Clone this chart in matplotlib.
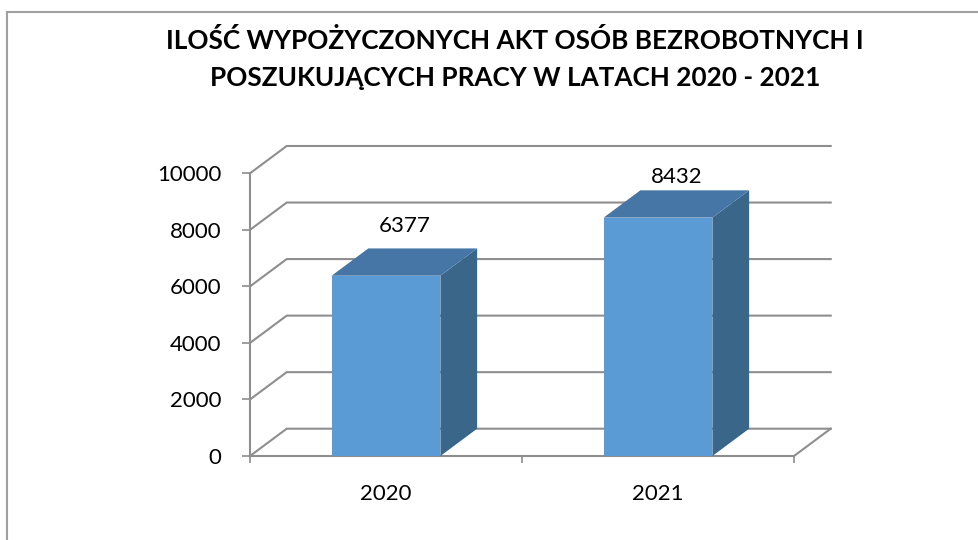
import matplotlib
matplotlib.use("Agg")
import matplotlib.pyplot as plt
from matplotlib.patches import Polygon, Rectangle
from matplotlib.lines import Line2D
import matplotlib.transforms as mtransforms

# ---- data ----
categories = ["2020", "2021"]
values = [6377, 8432]
yticks = [0, 2000, 4000, 6000, 8000, 10000]
title = "ILOŚĆ WYPOŻYCZONYCH AKT OSÓB BEZROBOTNYCH I\nPOSZUKUJĄCYCH PRACY W LATACH 2020 - 2021"

# ---- style / layout ----
W, H = 979, 540
front_c = "#5B9BD5"
top_c = "#4676A5"
side_c = "#3A6689"
grid_c = "#8E8E8E"
font = "Lato"
bar_w = 0.4
ddx = 0.135      # depth offset in category units
ddy = 966        # depth offset in value units
label_offsets_px = [22, 13]

fig = plt.figure(figsize=(W / 100, H / 100), dpi=100)
ax = fig.add_axes([250 / W, (H - 456) / H, 544 / W, (456 - 173.3) / H])
ax.set_xlim(-0.5, 1.5)
ax.set_ylim(0, 10000)
ax.patch.set_visible(False)

# spines
for s in ["top", "right"]:
    ax.spines[s].set_visible(False)
for s in ["left", "bottom"]:
    ax.spines[s].set_color(grid_c)
    ax.spines[s].set_linewidth(1.5)

# y ticks
ax.set_yticks(yticks)
ax.set_yticklabels([str(t) for t in yticks], fontfamily=font, fontsize=16)
ax.tick_params(axis="y", length=6, width=1.2, color=grid_c, pad=14.5)

# x ticks: major at category boundaries (tick marks), labels on minor at centers
n = len(categories)
ax.set_xticks([i - 0.5 for i in range(n + 1)])
ax.set_xticklabels([""] * (n + 1))
ax.set_xticks(list(range(n)), minor=True)
ax.set_xticklabels(categories, minor=True, fontfamily=font, fontsize=16)
ax.tick_params(axis="x", which="major", length=5, width=1.2, color=grid_c, direction="out")
ax.tick_params(axis="x", which="minor", length=0, pad=20)

# back wall gridlines with left wall diagonals
x0, x1 = -0.5, n - 0.5
for t in yticks:
    ax.plot([x0, x0 + ddx, x1 + ddx], [t, t + ddy, t + ddy], color=grid_c,
            lw=1.5, clip_on=False, zorder=1, solid_joinstyle="miter")
# floor right edge
ax.plot([x1, x1 + ddx], [0, ddy], color=grid_c, lw=1.5, clip_on=False, zorder=1)

# bars
for i, v in enumerate(values):
    l, r = i - bar_w / 2, i + bar_w / 2
    side = Polygon([(r, 0), (r + ddx, ddy), (r + ddx, v + ddy), (r, v)],
                   closed=True, facecolor=side_c, edgecolor="none", zorder=3, clip_on=False)
    top = Polygon([(l, v), (r, v), (r + ddx, v + ddy), (l + ddx, v + ddy)],
                  closed=True, facecolor=top_c, edgecolor="none", zorder=3, clip_on=False)
    front = Rectangle((l, 0), bar_w, v, facecolor=front_c, edgecolor="none",
                      zorder=4, clip_on=False)
    ax.add_patch(side)
    ax.add_patch(top)
    ax.add_patch(front)
    off = mtransforms.offset_copy(ax.transData, fig=fig, x=0,
                                  y=label_offsets_px[i] * 72 / 100, units="points")
    ax.text(i + ddx / 2, v + ddy, str(v), transform=off, ha="center", va="center",
            fontfamily=font, fontsize=16, color="black", zorder=5)

# title
fig.text(515 / W, 1 - 59 / H, title, ha="center", va="center", fontfamily=font,
         fontweight="bold", fontsize=18.8, linespacing=1.68, color="black")

# chart frame
fig.add_artist(Line2D([7.5 / W, 1.0], [1 - 12 / H, 1 - 12 / H], transform=fig.transFigure,
                      color="#A0A0A0", lw=1.5))
fig.add_artist(Line2D([7.5 / W, 7.5 / W], [1 - 12 / H, 0], transform=fig.transFigure,
                      color="#A0A0A0", lw=1.5))

fig.savefig("out.png", dpi=100, facecolor="white")
